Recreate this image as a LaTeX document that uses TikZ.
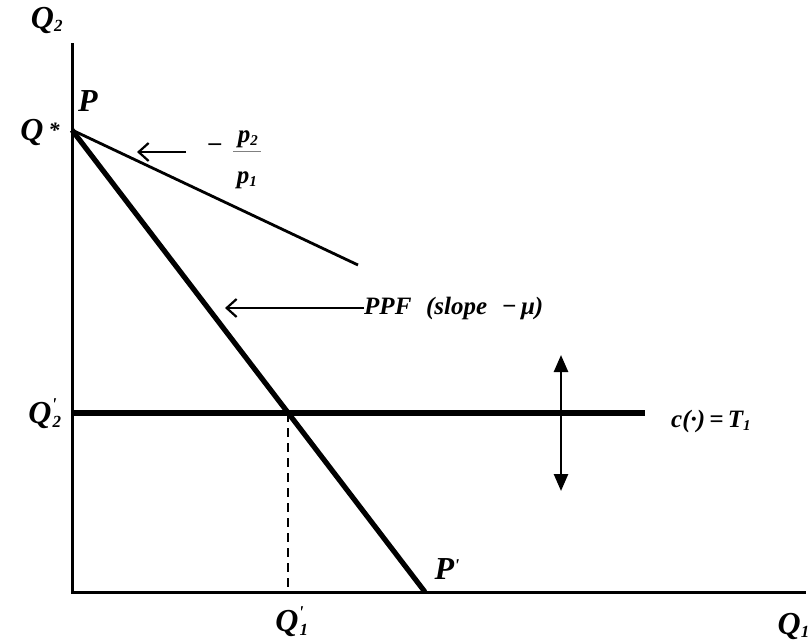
\documentclass[tikz,border=0pt]{standalone}
\usepackage{fontspec}
\setmainfont{Liberation Serif}
\usetikzlibrary{arrows.meta,calc}
\newcommand{\subsc}[1]{\textsubscript{\fontsize{17}{17}\selectfont #1}}
\newcommand{\primeQ}[1]{Q\makebox[0pt][l]{\raisebox{13pt}{\fontsize{18}{18}\selectfont\textquotesingle}}\hspace{1pt}\subsc{#1}}
\begin{document}
\begin{tikzpicture}[x=1pt,y=-1pt,
  axis/.style={line width=3pt},
  thinln/.style={line width=2.8pt},
  thickln/.style={line width=5.2pt},
  lbl/.style={inner sep=0pt,font=\fontsize{32}{36}\selectfont\itshape\bfseries},
  small/.style={inner sep=0pt,font=\fontsize{25}{28}\selectfont\itshape\bfseries},
  openarr/.style={line width=2.2pt,-{Straight Barb[length=10pt,width=18pt,line width=2.2pt]}},
  dblarr/.style={line width=2.6pt,{Triangle[length=17pt,width=14pt]}-{Triangle[length=17pt,width=14pt]}}
]
\useasboundingbox (0,0) rectangle (810,640);
\coordinate (ytop) at (72,43);
\coordinate (O) at (72,592);
\coordinate (xend) at (806,592);
\coordinate (P) at (72,130);
\coordinate (Pp) at (425,592);
\coordinate (L) at (358,265);
\coordinate (H0) at (72,413);
\coordinate (H1) at (645,413);
\coordinate (I) at (intersection of P--Pp and H0--H1);
\coordinate (Ib) at (I |- O);
% axes
\draw[axis] (ytop) -- (O) -- (xend);
% price line
\draw[thinln] (P) -- (L);
% PPF
\draw[thickln] (P) -- (Pp);
% constraint line
\draw[thickln] (H0) -- (H1);
% dashed drop
\draw[line width=2.4pt,dash pattern=on 9pt off 6pt] (I) -- (Ib);
% arrows
\coordinate (a1s) at (186,152);
\coordinate (a1e) at (137,152);
\draw[openarr] (a1s) -- (a1e);
\coordinate (a2s) at (364,308);
\coordinate (a2e) at (225,308);
\draw[openarr] (a2s) -- (a2e);
\coordinate (d1) at (561,355);
\coordinate (d2) at (561,491);
\draw[dblarr] (d1) -- (d2);
% labels
\node[lbl] (q2) at (47,20) {Q\subsc{2}};
\node[lbl] (pl) at (88,101) {P};
\node[lbl] (qs) at (40,132) {Q\,\raisebox{3pt}{\fontsize{22}{22}\selectfont *}};
\node[small] (minus) at (215,147) {–};
\node[small] (p2) at (248,139) {p\textsubscript{\fontsize{15}{15}\selectfont 2}};
\coordinate (b1) at (233,151);
\coordinate (b2) at (261,151);
\draw[line width=0.8pt,gray] (b1) -- (b2);
\node[small] (p1) at (247,180) {p\textsubscript{\fontsize{15}{15}\selectfont 1}};
\node[small,anchor=west] (ppf) at (364,308) {PPF\,\, (slope\,\, −\,μ)};
\node[small,anchor=west] (ct) at (671,421) {c(\textperiodcentered)\,=\,T\textsubscript{\fontsize{15}{15}\selectfont 1}};
\node[lbl] (q2p) at (45,414) {\primeQ{2}};
\node[lbl] (q1p) at (292,622) {\primeQ{1}};
\node[lbl] (ppl) at (447,569) {P\raisebox{8pt}{\fontsize{18}{18}\selectfont\textquotesingle}};
\node[lbl,anchor=east] (q1) at (810,626) {Q\subsc{1}};
\end{tikzpicture}
\end{document}
